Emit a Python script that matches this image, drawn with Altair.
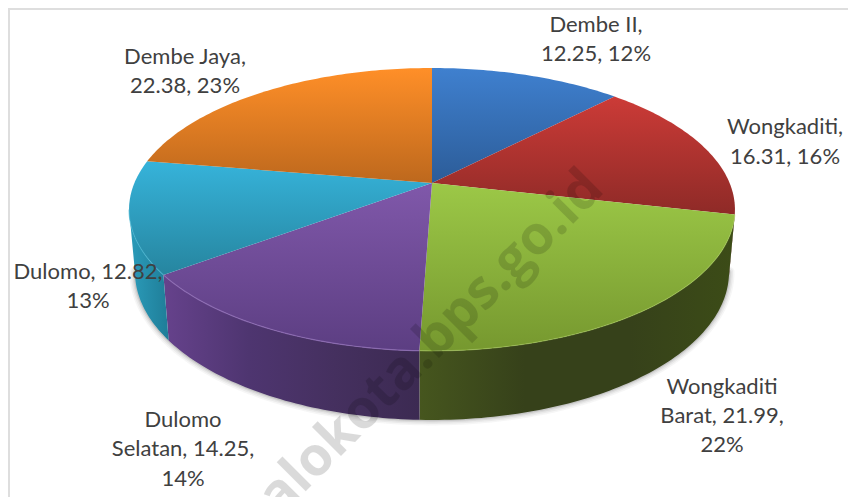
import math
import altair as alt
import pandas as pd

names = ["Dembe II", "Wongkaditi", "Wongkaditi Barat", "Dulomo Selatan", "Dulomo", "Dembe Jaya"]
values = [12.25, 16.31, 21.99, 14.25, 12.82, 22.38]

face_top = ["#3f80cf", "#cc3b37", "#9cc847", "#8058aa", "#36b3da", "#ff8f28"]
face_bottom = ["#2c5c98", "#8e2a27", "#76982f", "#5c3e82", "#26859f", "#bd681d"]
wall_stops = [
    ["#5a1b1b", "#6a2020"],
    ["#46561e", "#36411a", "#36411a", "#3c4c17"],
    ["#66428c", "#4e3570", "#45305f", "#3c2a52"],
    ["#2b9cba", "#1f7d98"],
]
bevel_colors = ["#a9cf55", "#8d6cb4", "#45b5d2"]

label_text = ["Dembe II,", "12.25, 12%", "Wongkaditi,", "16.31, 16%", "Wongkaditi", "Barat, 21.99,", "22%",
              "Dulomo", "Selatan, 14.25,", "14%", "Dulomo, 12.82,", "13%", "Dembe Jaya,", "22.38, 23%"]
label_x = [596, 596, 785, 785, 722, 722, 722, 183, 183, 183, 88, 88, 185, 185]
label_y = [25, 54, 127, 157, 387, 416, 445, 420, 449, 479, 272, 301, 57, 86]

W, H = 840, 489
OFF = 8
CX = 432
K = 0.187
TOP = dict(A=297.6, B=136.5, cy=183.0)
BOT = dict(A=291.8, B=142.8, cy=244.3)


def pt(theta_deg, p):
    t = math.radians(theta_deg)
    w = 1 + K * math.cos(t)
    return CX + p["A"] * math.sin(t) / w - OFF, p["cy"] - p["B"] * math.cos(t) / w - OFF


def arc(a, b, p):
    n = max(2, int(abs(b - a)) + 2)
    return [pt(a + (b - a) * i / (n - 1), p) for i in range(n)]


def shape(points, mark):
    df = pd.DataFrame({"x": [q[0] for q in points], "y": [q[1] for q in points], "i": range(len(points))})
    return mark.encode(
        x=alt.X("x:Q", scale=alt.Scale(domain=[0, W]), axis=None),
        y=alt.Y("y:Q", scale=alt.Scale(domain=[H, 0]), axis=None),
        order=alt.Order("i:Q"),
    ).properties(data=df)


def grad(stops, horizontal=False):
    n = len(stops) - 1
    return alt.LinearGradient(
        gradient="linear",
        x1=0, y1=0,
        x2=1 if horizontal else 0,
        y2=0 if horizontal else 1,
        stops=[alt.GradientStop(color=c, offset=i / n) for i, c in enumerate(stops)],
    )


total = sum(values)
edges = [0.0]
for v in values:
    edges.append(edges[-1] + v / total * 360)

layers = []

# frame
layers.append(alt.Chart(pd.DataFrame({"a": [0]})).mark_rule(color="#dedede", strokeWidth=2).encode(
    x=alt.value(1), y=alt.value(0), y2=alt.value(H)))
layers.append(alt.Chart(pd.DataFrame({"a": [0]})).mark_rule(color="#dedede", strokeWidth=2).encode(
    y=alt.value(1), x=alt.value(0), x2=alt.value(W)))

# soft shadow under the disc
vis_a, vis_b = 100.8, 259.2
for width, op in [(11, 0.05), (8, 0.07), (5, 0.10), (2.5, 0.16)]:
    layers.append(shape(arc(vis_a, vis_b, BOT), alt.Chart().mark_line(
        color="#555555", strokeWidth=width, opacity=op, strokeCap="round")))

# side walls
wall_spans = [(vis_a, edges[2]), (edges[2], edges[3]), (edges[3], edges[4]), (edges[4], vis_b)]
for (a, b), stops in zip(wall_spans, wall_stops):
    pts = arc(a, b, TOP) + arc(b, a, BOT)
    layers.append(shape(pts, alt.Chart().mark_line(fill=grad(stops, True), strokeWidth=0)))

# top faces
for j in range(len(values)):
    pts = [pt(0, dict(A=0, B=0, cy=TOP["cy"]))] + arc(edges[j], edges[j + 1], TOP)
    layers.append(shape(pts, alt.Chart().mark_line(fill=grad([face_top[j], face_bottom[j]]), strokeWidth=0)))

# bevel on the front rim
for (a, b), col, op in zip([(edges[2], edges[3]), (edges[3], edges[4]), (edges[4], vis_b)], bevel_colors, [0.45, 0.8, 0.6]):
    layers.append(shape(arc(a, b, TOP), alt.Chart().mark_line(color=col, strokeWidth=1.2, opacity=op)))

# watermark
layers.append(alt.Chart(pd.DataFrame({"t": ["talokota.bps.go.id"]})).mark_text(
    font="Open Sans", fontWeight="bold", fontSize=54, angle=315, align="right", baseline="alphabetic",
    color="#000000", opacity=0.14).encode(
    text="t:N", x=alt.value(606 - OFF), y=alt.value(191 - OFF)))

# labels
ldf = pd.DataFrame({"t": label_text, "x": [v - OFF for v in label_x], "y": [v - OFF for v in label_y]})
layers.append(alt.Chart(ldf).mark_text(font="Lato", fontSize=22, color="#404040", align="center", baseline="middle").encode(
    text="t:N",
    x=alt.X("x:Q", scale=alt.Scale(domain=[0, W]), axis=None),
    y=alt.Y("y:Q", scale=alt.Scale(domain=[H, 0]), axis=None),
))

chart = alt.layer(*layers).properties(
    width=W, height=H, padding=0, background="white",
    autosize=alt.AutoSizeParams(type="none"),
).configure_view(stroke=None)

chart.save("out.html", embed_options={"renderer": "svg", "actions": False})
